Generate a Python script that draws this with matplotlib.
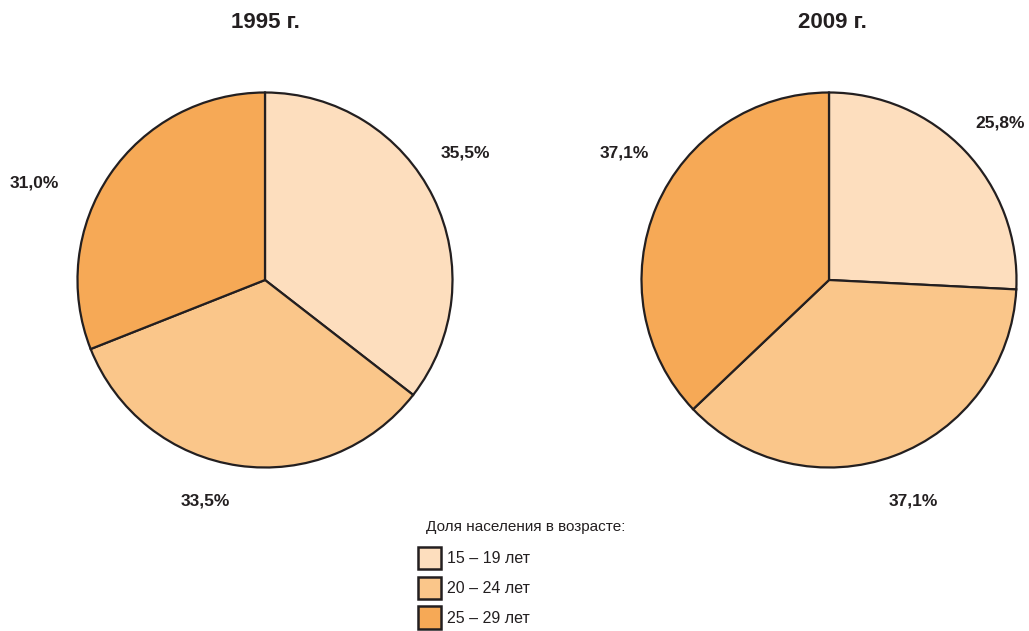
import matplotlib
matplotlib.use("Agg")
import matplotlib.pyplot as plt
from matplotlib.patches import Patch

years = ["1995 г.", "2009 г."]
categories = ["15 – 19 лет", "20 – 24 лет", "25 – 29 лет"]
values_1995 = [35.5, 33.5, 31.0]
values_2009 = [25.8, 37.1, 37.1]
legend_title = "Доля населения в возрасте:"

colors = ["#FDDEBE", "#FAC68A", "#F6A956"]
edge = "#231F20"

plt.rcParams["font.family"] = ["Liberation Sans", "DejaVu Sans"]

W, H = 1029, 631
fig = plt.figure(figsize=(W / 100, H / 100), dpi=100)

# pie geometry in pixels (center x, center y, radius)
pies = [(265, 280, 187.5), (829, 280, 187.5)]
pad = 1.03
# label offsets relative to radius
label_pos = [
    [(1.07, 0.68), (-0.32, -1.18), (-1.23, 0.52)],
    [(0.91, 0.84), (0.45, -1.18), (-1.09, 0.68)],
]
title_x = [265, 832]

for i, (vals, year) in enumerate(zip([values_1995, values_2009], years)):
    cx, cy, r = pies[i]
    rr = r * pad
    ax = fig.add_axes([(cx - rr) / W, (H - cy - rr) / H, 2 * rr / W, 2 * rr / H])
    ax.pie(vals, colors=colors, startangle=90, counterclock=False, radius=1,
           wedgeprops=dict(edgecolor=edge, linewidth=1.6))
    ax.set_xlim(-pad, pad)
    ax.set_ylim(-pad, pad)
    ax.set_aspect("equal")
    ax.axis("off")
    for v, (lx, ly) in zip(vals, label_pos[i]):
        ax.text(lx, ly, f"{v:.1f}%".replace(".", ","), ha="center", va="center",
                fontsize=12.5, fontweight="bold", color="#231F20", clip_on=False)
    fig.text(title_x[i] / W, 1 - 22 / H, year, ha="center", va="center",
             fontsize=16, fontweight="bold", color="#231F20")

fig.text(426 / W, 1 - 527 / H, legend_title, ha="left", va="center",
         fontsize=11, color="#231F20")

handles = [Patch(facecolor=c, edgecolor=edge, linewidth=1.8) for c in colors]
leg = fig.legend(handles, categories, loc="upper left",
                 bbox_to_anchor=(418 / W, 1 - 547 / H), frameon=False,
                 fontsize=11.5, handlelength=1.45, handleheight=1.75,
                 handletextpad=0.35, labelspacing=0.48, borderpad=0,
                 borderaxespad=0)
for t in leg.get_texts():
    t.set_color("#231F20")

fig.savefig("out.png", dpi=100)
